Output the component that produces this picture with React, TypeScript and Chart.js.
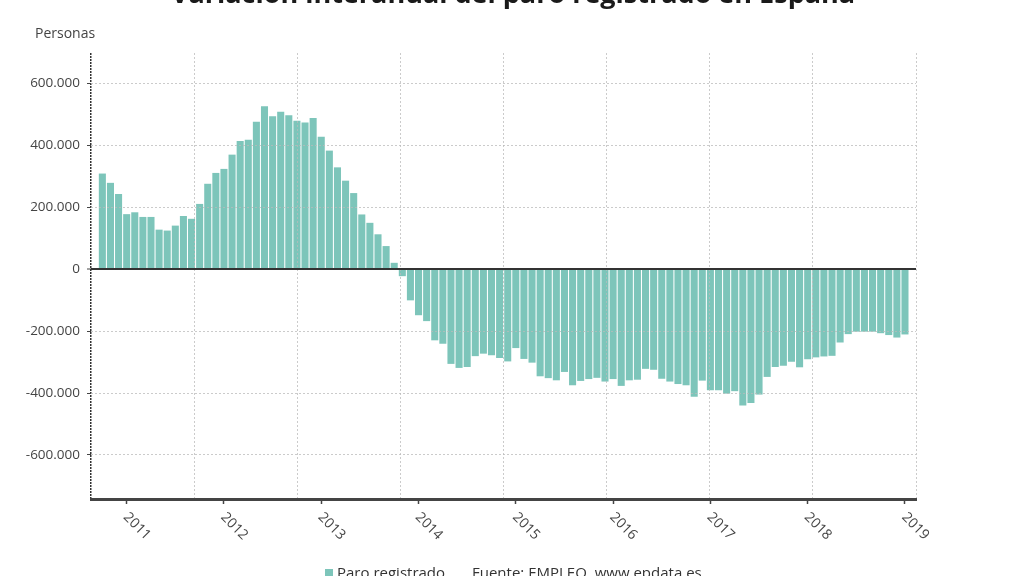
import { useEffect, useRef } from 'react';
import { Chart, registerables } from 'chart.js';

Chart.register(...registerables);

const titleText = 'Variación interanual del paro registrado en España';
const yAxisLabel = 'Personas';
const seriesLabel = 'Paro registrado';
const sourceText = 'Fuente: EMPLEO, www.epdata.es';

const months = [
  '2010-09', '2010-10', '2010-11', '2010-12',
  '2011-01', '2011-02', '2011-03', '2011-04', '2011-05', '2011-06', '2011-07', '2011-08', '2011-09', '2011-10', '2011-11', '2011-12',
  '2012-01', '2012-02', '2012-03', '2012-04', '2012-05', '2012-06', '2012-07', '2012-08', '2012-09', '2012-10', '2012-11', '2012-12',
  '2013-01', '2013-02', '2013-03', '2013-04', '2013-05', '2013-06', '2013-07', '2013-08', '2013-09', '2013-10', '2013-11', '2013-12',
  '2014-01', '2014-02', '2014-03', '2014-04', '2014-05', '2014-06', '2014-07', '2014-08', '2014-09', '2014-10', '2014-11', '2014-12',
  '2015-01', '2015-02', '2015-03', '2015-04', '2015-05', '2015-06', '2015-07', '2015-08', '2015-09', '2015-10', '2015-11', '2015-12',
  '2016-01', '2016-02', '2016-03', '2016-04', '2016-05', '2016-06', '2016-07', '2016-08', '2016-09', '2016-10', '2016-11', '2016-12',
  '2017-01', '2017-02', '2017-03', '2017-04', '2017-05', '2017-06', '2017-07', '2017-08', '2017-09', '2017-10', '2017-11', '2017-12',
  '2018-01', '2018-02', '2018-03', '2018-04', '2018-05', '2018-06', '2018-07', '2018-08', '2018-09', '2018-10', '2018-11', '2018-12',
];

const values = [
  307000, 277000, 241000, 176000,
  182000, 167000, 167000, 126000, 123000, 139000, 170000, 161000, 209000, 274000, 309000, 322000,
  368000, 412000, 416000, 474000, 524000, 492000, 506000, 495000, 477000, 472000, 486000, 426000,
  381000, 327000, 284000, 244000, 175000, 148000, 111000, 73000, 19000, -22000, -100000, -148000,
  -167000, -229000, -240000, -305000, -318000, -315000, -280000, -272000, -277000, -286000, -297000, -254000,
  -289000, -301000, -345000, -351000, -358000, -331000, -374000, -360000, -354000, -350000, -362000, -354000,
  -376000, -358000, -356000, -321000, -324000, -353000, -362000, -370000, -374000, -411000, -359000, -390000,
  -390000, -401000, -393000, -439000, -431000, -404000, -347000, -315000, -311000, -298000, -316000, -290000,
  -284000, -281000, -279000, -236000, -209000, -201000, -201000, -201000, -206000, -212000, -220000, -210000,
];

const yearTicks = [2011, 2012, 2013, 2014, 2015, 2016, 2017, 2018, 2019];
const yTicks = [-600000, -400000, -200000, 0, 200000, 400000, 600000];
const gridDivisions = [0, 1, 2, 3, 4, 5, 6, 7, 8];

const BAR_COLOR = '#7dc5ba';
const GRID_COLOR = 'rgba(185,185,185,0.75)';
const TEXT_COLOR = '#444';
const FONT = '"Open Sans", "Noto Sans", sans-serif';

const monthPos = (m: string) => {
  const [y, mo] = m.split('-').map(Number);
  return (y - 2011) * 12 + mo;
};
const yearPos = (y: number) => (y - 2011) * 12;

const fmt = (v: number) => {
  const s = Math.abs(v).toString().replace(/\B(?=(\d{3})+(?!\d))/g, '.');
  return (v < 0 ? '-' : '') + s;
};

const decorPlugin = {
  id: 'decor',
  afterDraw(chart: any) {
    const ctx = chart.ctx as CanvasRenderingContext2D;
    ctx.save();
    // Title (partly cut at top)
    ctx.font = `bold 27px ${FONT}`;
    ctx.fillStyle = '#1a1a1a';
    ctx.textAlign = 'center';
    ctx.textBaseline = 'alphabetic';
    ctx.fillText(titleText, 513, 3);

    // Y axis label
    ctx.font = `14px ${FONT}`;
    ctx.fillStyle = TEXT_COLOR;
    ctx.textAlign = 'left';
    ctx.textBaseline = 'middle';
    ctx.fillText(yAxisLabel, 35, 34);

    // Rotated x tick labels
    const xs = chart.scales.x;
    ctx.font = `14px ${FONT}`;
    ctx.fillStyle = TEXT_COLOR;
    xs.ticks.forEach((t: any) => {
      const px = xs.getPixelForValue(t.value);
      ctx.save();
      ctx.translate(px - 1, xs.top + 16);
      ctx.rotate(Math.PI / 4);
      ctx.textAlign = 'left';
      ctx.textBaseline = 'middle';
      ctx.fillText(String(t.label), 0, 0);
      ctx.restore();
    });

    // Legend row (cut at bottom)
    ctx.fillStyle = chart.data.datasets[0].backgroundColor;
    ctx.fillRect(325, 569, 8, 9);
    ctx.font = `15px ${FONT}`;
    ctx.fillStyle = '#333';
    ctx.textAlign = 'left';
    ctx.textBaseline = 'alphabetic';
    ctx.fillText(seriesLabel, 337, 578);
    ctx.fillText(sourceText, 472, 578);
    ctx.restore();
  },
};

export default function App() {
  const ref = useRef<HTMLCanvasElement | null>(null);

  useEffect(() => {
    if (!ref.current) return;
    Chart.defaults.font.family = FONT;
    const chart = new Chart(ref.current, {
      type: 'bar',
      data: {
        datasets: [
          {
            label: seriesLabel,
            data: months.map((m, i) => ({ x: monthPos(m), y: values[i] })),
            backgroundColor: BAR_COLOR,
            barThickness: 6.4,
            xAxisID: 'x',
            yAxisID: 'y',
          } as any,
        ],
      },
      options: {
        animation: false,
        responsive: false,
        maintainAspectRatio: false,
        layout: { padding: { left: 0, right: 108, top: 53, bottom: 0 } },
        plugins: {
          legend: { display: false },
          title: { display: false },
          tooltip: { enabled: false },
        },
        scales: {
          x: {
            type: 'linear',
            position: 'bottom',
            offset: false,
            min: -4.4,
            max: 97.36,
            weight: 0,
            afterBuildTicks: (s: any) => {
              s.ticks = yearTicks.map((y) => ({ value: yearPos(y), label: String(y) }));
            },
            ticks: { display: false, callback: (v: any) => String(2011 + Number(v) / 12) },
            grid: {
              display: true,
              offset: false,
              drawOnChartArea: false,
              drawTicks: true,
              tickLength: 5,
              tickColor: '#444',
              tickWidth: 1.5,
            },
            border: { display: true, color: '#444', width: 3, z: 3 },
            afterFit: (s: any) => {
              s.height = 77;
            },
          },
          x2: {
            type: 'linear',
            position: 'bottom',
            offset: false,
            min: 0,
            max: 8,
            weight: 1,
            afterBuildTicks: (s: any) => {
              s.ticks = gridDivisions.map((v) => ({ value: v }));
            },
            ticks: { display: false },
            grid: {
              z: 1,
              offset: false,
              drawTicks: false,
              color: (c: any) => (c.index === 0 ? '#333' : GRID_COLOR),
              lineWidth: (c: any) => (c.index === 0 ? 1.5 : 1),
            },
            border: {
              display: false,
              dash: (c: any) => (c.index === 0 ? [2, 1] : [2, 2]),
            },
            afterFit: (s: any) => {
              s.height = 0;
            },
          },
          y: {
            type: 'linear',
            min: -742000,
            max: 697000,
            afterBuildTicks: (s: any) => {
              s.ticks = yTicks.map((v) => ({ value: v }));
            },
            ticks: {
              callback: (v: any) => fmt(Number(v)),
              color: TEXT_COLOR,
              font: { family: FONT, size: 13.5 },
              padding: 7,
            },
            grid: {
              z: 1,
              color: (c: any) => (c.tick && c.tick.value === 0 ? '#333' : GRID_COLOR),
              lineWidth: (c: any) => (c.tick && c.tick.value === 0 ? 2 : 1),
              tickLength: 4,
              tickColor: '#444',
              tickWidth: 1,
            },
            border: {
              display: false,
              dash: (c: any) => (c.tick && c.tick.value === 0 ? [] : [2, 2]),
            },
            afterFit: (s: any) => {
              s.width = 91;
            },
          },
        },
      } as any,
      plugins: [decorPlugin],
    });
    return () => chart.destroy();
  }, []);

  return (
    <div style={{ position: 'fixed', left: 0, top: 0, width: 1024, height: 576, background: '#fff' }}>
      <canvas ref={ref} width={1024} height={576} />
    </div>
  );
}
